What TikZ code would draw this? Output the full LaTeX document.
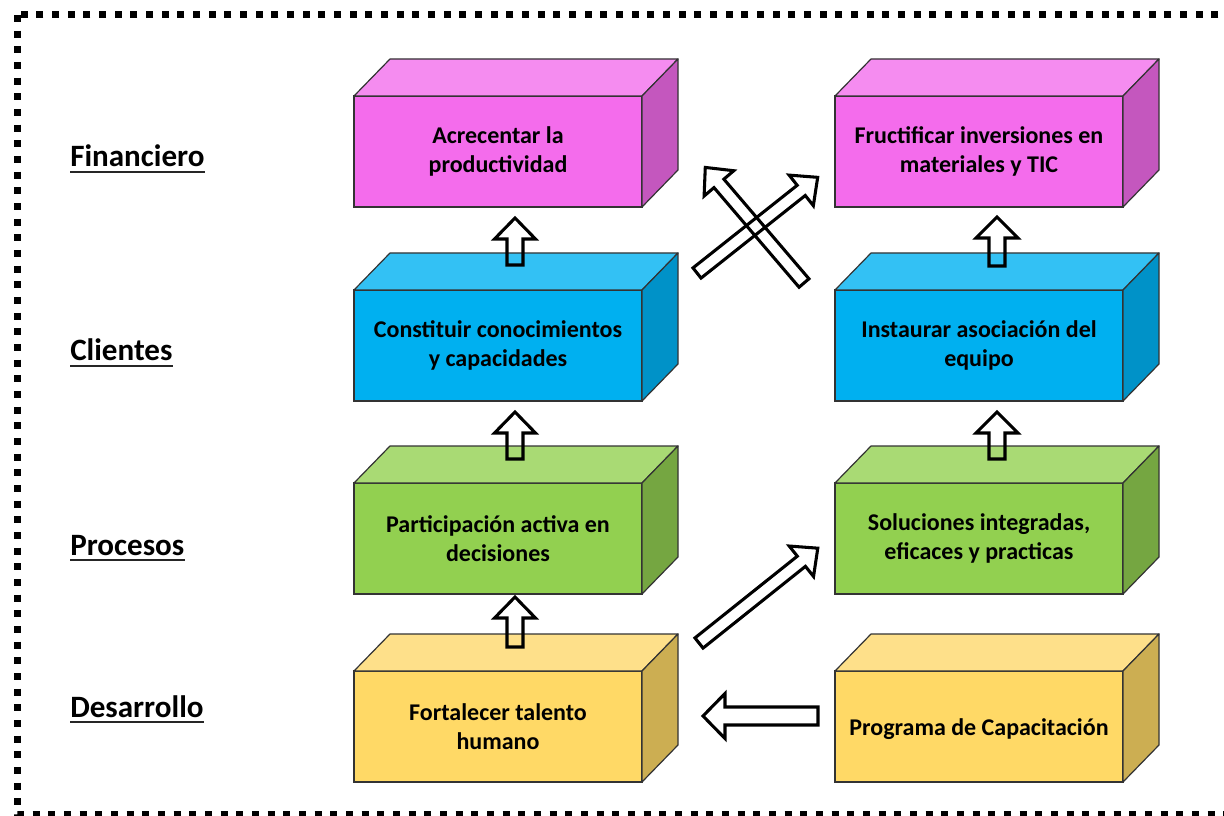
\documentclass[tikz,border=0pt]{standalone}
\usepackage{fontspec}
\setmainfont{Carlito}
\definecolor{pinkf}{RGB}{244,108,236}
\definecolor{pinkt}{RGB}{245,140,240}
\definecolor{pinks}{RGB}{196,87,190}
\definecolor{bluef}{RGB}{0,176,240}
\definecolor{bluet}{RGB}{51,193,244}
\definecolor{blues}{RGB}{0,146,200}
\definecolor{greenf}{RGB}{146,208,80}
\definecolor{greent}{RGB}{169,218,116}
\definecolor{greens}{RGB}{117,166,65}
\definecolor{yellowf}{RGB}{255,217,102}
\definecolor{yellowt}{RGB}{254,224,138}
\definecolor{yellows}{RGB}{204,174,82}
\tikzset{
  front/.style={draw=black!80, line width=0.9pt, anchor=north west, outer sep=0pt, inner sep=0pt,
    minimum width=216pt, minimum height=83.25pt, align=center,
    font=\fontsize{18}{21.5}\selectfont\bfseries},
  edge/.style={draw=black!80, line width=0.9pt, line join=round},
  barrow/.style={draw=black, line width=2.3pt, line join=miter},
  lbl/.style={anchor=base west, inner sep=0pt, font=\fontsize{23.3}{27}\selectfont\bfseries},
  uline/.style={line width=1.6pt, black!85}
}
\newcommand\cubebox[5]{%
  \node[front, fill=#4f] (#1) at (#2,#3) {#5};
  \draw[edge, fill=#4t] (#1.north west) -- ++(36,-37) -- ++(288,0) -- (#1.north east) -- cycle;
  \draw[edge, fill=#4s] (#1.north east) -- ++(36,-37) -- ++(0,111) -- (#1.south east) -- cycle;
}
\newcommand\blockarrow[7]{%
  \begin{scope}[shift={(#1,#2)}, rotate=#3]
    \draw[barrow] (0,-#5/2) -- ({#4-#7},-#5/2) -- ({#4-#7},-#6/2) -- (#4,0)
      -- ({#4-#7},#6/2) -- ({#4-#7},#5/2) -- (0,#5/2) -- cycle;
  \end{scope}}
\newcommand\rowlabel[4]{%
  \node[lbl] (#1) at (#2,#3) {#4};
  \draw[uline] ([yshift=-4pt]#1.base west) -- ([yshift=-4pt]#1.base east);
}
\begin{document}
\begin{tikzpicture}[x=0.75pt, y=-0.75pt]
\useasboundingbox (0,0) rectangle (1224,816);
\clip (0,0) rectangle (1224,816);
\fill[white] (0,0) rectangle (1224,816);
% dotted frame
\draw[line width=5.25pt, dash pattern=on 5.25pt off 6.5pt] (17,15) rectangle (1260,814);
% row labels
\rowlabel{lf}{70}{167}{Financiero}
\rowlabel{lc}{70}{361}{Clientes}
\rowlabel{lp}{70}{555}{Procesos}
\rowlabel{ld}{70}{717}{Desarrollo}
% boxes
\cubebox{b1}{354}{96}{pink}{Acrecentar la\\productividad}
\cubebox{b2}{835}{96}{pink}{Fructificar inversiones en\\materiales y TIC}
\cubebox{c1}{354}{290}{blue}{Constituir conocimientos\\y capacidades}
\cubebox{c2}{835}{290}{blue}{Instaurar asociación del\\equipo}
\cubebox{p1}{354}{483}{green}{Participación activa en\\decisiones}
\cubebox{p2}{835}{483}{green}{Soluciones integradas,\\eficaces y practicas}
\cubebox{d1}{354}{671}{yellow}{Fortalecer talento\\humano}
\cubebox{d2}{835}{671}{yellow}{\raisebox{-2.5pt}[12pt][4pt]{Programa de Capacitación}}
% block arrows
\blockarrow{515}{265}{90}{47}{16}{41}{21}
\blockarrow{997}{266}{90}{49}{16}{42}{21}
\blockarrow{515}{459}{90}{47}{16}{41}{21}
\blockarrow{997}{459}{90}{47}{16}{42}{21}
\blockarrow{515}{647}{90}{50}{16}{41}{21}
\blockarrow{818}{716}{180}{115}{18}{45}{22}
\blockarrow{699}{643}{38.6}{152}{13}{39}{21}
\blockarrow{697}{273}{38.4}{154}{13}{39}{21}
\blockarrow{804}{283}{130.5}{152}{13}{39}{21}
\end{tikzpicture}
\end{document}
